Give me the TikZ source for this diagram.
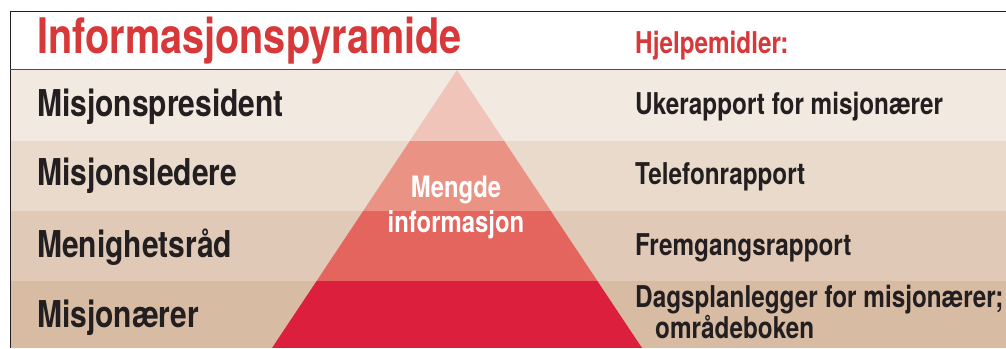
\documentclass[tikz,border=0pt]{standalone}
\usepackage{fontspec}
\newfontfamily\narrowfont[FakeStretch=0.81]{TeX Gyre Heros}
\definecolor{titlered}{HTML}{D7393A}
\definecolor{textdark}{HTML}{231F20}
\definecolor{bandA}{HTML}{F2E9E0}
\definecolor{bandB}{HTML}{E9DACB}
\definecolor{bandC}{HTML}{E1C9B7}
\definecolor{bandD}{HTML}{D7BBA3}
\definecolor{pyrA}{HTML}{F1C4BA}
\definecolor{pyrB}{HTML}{EA9385}
\definecolor{pyrC}{HTML}{E3655E}
\definecolor{pyrD}{HTML}{DC1F3C}

\begin{document}
\begin{tikzpicture}[x=1pt,y=-1pt,
	every node/.style={inner sep=0pt,anchor=base west},
	headtext/.style={text=titlered,font=\narrowfont\bfseries\fontsize{30}{32}\selectfont},
	lefttext/.style={text=textdark,font=\narrowfont\bfseries\fontsize{37}{40}\selectfont},
	righttext/.style={text=textdark,font=\narrowfont\bfseries\fontsize{30}{28}\selectfont},
	pyrtext/.style={text=white,anchor=base,font=\narrowfont\bfseries\fontsize{29.5}{35}\selectfont,align=center}]
	\useasboundingbox (0,0) rectangle (1006,348);
	\fill[white] (0,0) rectangle (1006,348);
	\foreach \top/\bot/\bg in {70/141/bandA,141/211/bandB,211/281/bandC,281/348/bandD}
		\fill[\bg] (10,\top) rectangle (1006,\bot);
	\begin{scope}
		\clip (457,70) -- (642,348) -- (272,348) -- cycle;
		\foreach \top/\bot/\py in {70/141/pyrA,141/211/pyrB,211/281/pyrC,281/348/pyrD}
			\fill[\py] (250,\top) rectangle (700,\bot);
	\end{scope}
	\draw[textdark,line width=1pt] (10,348) -- (10,11) -- (1006,11);
	\draw[black!70,line width=1.5pt] (10,69.5) -- (1006,69.5);
	\node[headtext,font=\narrowfont\bfseries\fontsize{49}{54}\selectfont] (title) at (37,53) {Informasjonspyramide};
	\node[headtext] (tools) at (635,53) {Hjelpemidler:};
	\node[lefttext] (president) at (37,116) {Misjonspresident};
	\node[lefttext] (leaders) at (37,185) {Misjonsledere};
	\node[lefttext] (council) at (37,257) {Menighetsråd};
	\node[lefttext] (missionaries) at (37,327) {Misjonærer};
	\node[righttext] (weekly) at (635,114) {Ukerapport for misjonærer};
	\node[righttext] (phone) at (635,184) {Telefonrapport};
	\node[righttext] (progress) at (635,255) {Fremgangsrapport};
	\node[righttext,align=left] (daily) at (635,338) {Dagsplanlegger for misjonærer;\\\hspace*{20pt}områdeboken};
	\node[pyrtext] (amount) at (456,232) {Mengde\\informasjon};
\end{tikzpicture}
\end{document}
